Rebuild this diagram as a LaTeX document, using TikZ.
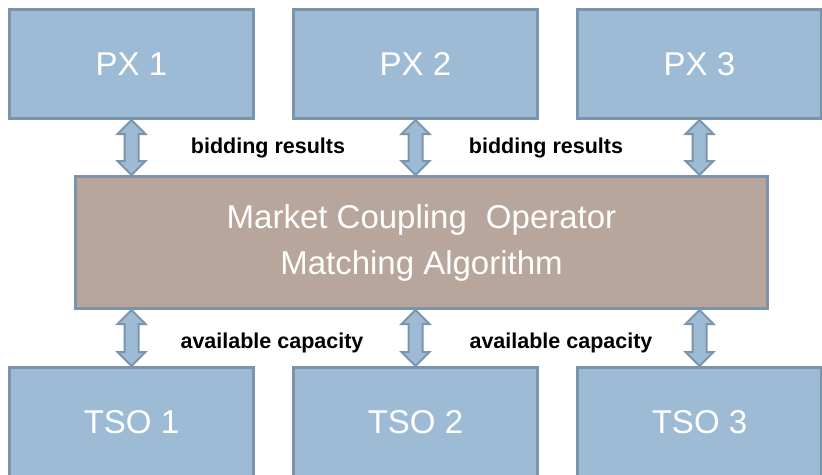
\documentclass[tikz,border=0pt]{standalone}
\usepackage{fontspec}
\setmainfont{Liberation Sans}
\usetikzlibrary{positioning,calc}
\definecolor{pxblue}{HTML}{9EBBD6}
\definecolor{edgeblue}{HTML}{7B94AC}
\definecolor{mcobrown}{HTML}{B8A59B}
\tikzset{
    party/.style={
        draw=edgeblue, fill=pxblue, line width=3pt,
        minimum width=244pt, minimum height=109pt,
        text=white, font=\fontsize{33}{40}\selectfont
    },
    coupler/.style={
        draw=edgeblue, fill=mcobrown, line width=3pt,
        minimum width=692pt, minimum height=132pt,
        text=white, align=center, font=\fontsize{33}{46}\selectfont
    },
    flowlabel/.style={font=\fontsize{21.5}{24}\selectfont\bfseries},
    biarrow/.style={draw=edgeblue, fill=pxblue, line width=2pt, line join=miter}
}
% hollow double-headed arrow between two points
\newcommand{\exchange}[2]{%
    \path[biarrow] (#1) -- ++(14,14) -- ++(-7,0) -- ($(#2)+(7,-14)$) -- ++(7,0) -- (#2)
        -- ++(-14,-14) -- ++(7,0) -- ($(#1)+(-7,14)$) -- ++(-7,0) -- cycle;}

\begin{document}
\begin{tikzpicture}[x=1pt,y=-1pt]
    \path[use as bounding box, clip] (0,0) rectangle (822,474);

    % power exchanges
    \node[party] (px1) at (131.5,64) {PX 1};
    \node[party, right=37pt of px1] (px2) {PX 2};
    \node[party, right=37pt of px2] (px3) {PX 3};

    % coupling operator
    \node[coupler] (mco) at (421.5,242.5) {Market Coupling\hspace{0.3em} Operator\\Matching Algorithm};

    % transmission system operators
    \node[party] (tso1) at (131.5,422) {TSO 1};
    \node[party, right=37pt of tso1] (tso2) {TSO 2};
    \node[party, right=37pt of tso2] (tso3) {TSO 3};

    % arrows
    \foreach \n in {1,2,3}{
        \exchange{px\n.south}{px\n.south |- mco.north}
        \exchange{mco.south -| tso\n.north}{tso\n.north}
    }

    \node[flowlabel] (bid1) at (268,148) {bidding results};
    \node[flowlabel] (bid2) at (546,148) {bidding results};
    \node[flowlabel] (cap1) at (272,343) {available capacity};
    \node[flowlabel] (cap2) at (561,343) {available capacity};
\end{tikzpicture}
\end{document}
